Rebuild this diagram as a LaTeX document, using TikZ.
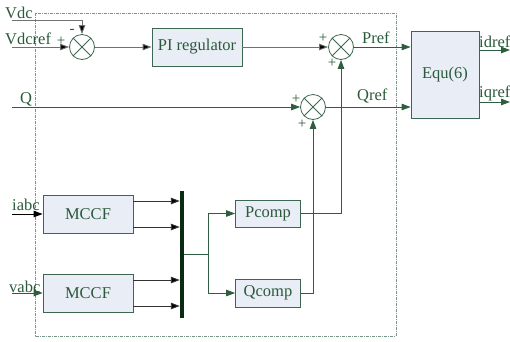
\documentclass[tikz,border=0pt]{standalone}
\usepackage{fontspec}
\setmainfont{Liberation Serif}
\usetikzlibrary{arrows.meta, positioning, calc}
\definecolor{boxGreen}{HTML}{3E6650}
\definecolor{textGreen}{HTML}{2A5A3A}
\definecolor{wireGreen}{HTML}{2F5D40}
\definecolor{boxFill}{HTML}{E9EDF5}
\definecolor{wireGray}{HTML}{707070}
\definecolor{busDark}{HTML}{0B2A16}

\begin{document}
\begin{tikzpicture}[x=1pt, y=-1pt,
    font=\fontsize{16.5}{18}\selectfont, text=textGreen,
    block/.style={draw=boxGreen, fill=boxFill, thick, inner sep=0pt},
    summer/.style={draw=boxGreen, circle, thick, minimum size=25pt, inner sep=0pt},
    wire/.style={wireGreen, line width=0.9pt, -{Triangle[length=9pt, width=6.5pt]}},
    graywire/.style={wireGray, line width=0.9pt, -{Triangle[length=9pt, width=6.5pt, fill=black]}},
    sign/.style={font=\fontsize{15}{16}\selectfont, inner sep=0pt},
    lbl/.style={anchor=base west, inner sep=0pt}]
    \useasboundingbox (0,0) rectangle (510,341);
    % controller frame
    \draw[boxGreen!70, dash pattern=on 3pt off 1pt on 1pt off 1pt] (35,13) rectangle (396,336);

    % blocks
    \node[summer] (sumV) at (82,47) {};
    \node[block, minimum width=90pt, minimum height=38pt] (pi) at (197,47) {PI regulator};
    \node[summer] (sumP) at (341,47) {};
    \node[summer] (sumQ) at (313,107) {};
    \node[block, minimum width=68pt, minimum height=87pt] (equ) at (445,75) {Equ(6)};
    \node[block, minimum width=90pt, minimum height=38pt] (mccfI) at (88,214) {MCCF};
    \node[block, minimum width=90pt, minimum height=38pt] (mccfV) at (88,293) {MCCF};
    \node[fill=busDark, minimum width=4pt, minimum height=127pt, inner sep=0pt] (bus) at (182,254.5) {};
    \node[block, minimum width=65pt, minimum height=27pt] (pcomp) at (268,213.5) {Pcomp};
    \node[block, minimum width=65pt, minimum height=28pt] (qcomp) at (268,293) {Qcomp};
    \foreach \s in {sumV, sumP, sumQ}
        \draw[boxGreen, thick] (\s.north west) -- (\s.south east) (\s.north east) -- (\s.south west);

    % free ends
    \coordinate (vdcIn) at (12,20);
    \coordinate (vdcrefIn) at (12,47);
    \coordinate (qIn) at (12,107);
    \coordinate (iabcIn) at (12,214);
    \coordinate (vabcIn) at (12,293);
    \coordinate (idOut) at (510,50);
    \coordinate (iqOut) at (510,102);

    % connectors
    \draw[graywire] (vdcIn) -| (sumV.north);
    \draw[graywire] (vdcrefIn) -- (sumV.west);
    \draw[graywire] (sumV.east) -- (pi.west);
    \draw[graywire] (pi.east) -- (sumP.west);
    \draw[wire] (sumP.east) -- (equ.west |- sumP.east);
    \draw[wire] (qIn) -- (sumQ.west);
    \draw[wire] (sumQ.east) -- (equ.west |- sumQ.east);
    \draw[wire] (equ.east |- idOut) -- (idOut);
    \draw[wire] (equ.east |- iqOut) -- (iqOut);
    \draw[graywire, black] (iabcIn) -- (mccfI.west);
    \draw[wire] (vabcIn) -- (mccfV.west);
    \foreach \m in {mccfI, mccfV}
        \foreach \d in {-13,13} {
            \path ($(\m.east)+(0,\d)$) coordinate (o);
            \draw[graywire, black!80] (o) -- (o -| bus.west);
        }
    \draw[wireGreen, line width=0.9pt] (bus.east) -- ++(24,0) coordinate (fork);
    \draw[wire] (fork) |- (pcomp.west);
    \draw[wire] (fork) |- (qcomp.west);
    \draw[wire] (pcomp.east) -| (sumP.south);
    \draw[wire] (qcomp.east) -| (sumQ.south);

    % labels
    \node[lbl] at (5,18) {Vdc};
    \node[lbl] at (5,44) {Vdcref};
    \node[lbl] at (20,103) {Q};
    \node[lbl] at (12,210) {iabc};
    \node[lbl] at (9,292) {vabc};
    \node[lbl] at (362,43) {Pref};
    \node[lbl] at (357,100) {Qref};
    \node[lbl] at (479,47) {idref};
    \node[lbl] at (479,97) {iqref};
    \node[sign] at (61,41) {+};
    \node[sign] at (72,31) {-};
    \node[sign] at (323,38) {+};
    \node[sign] at (332,63) {+};
    \node[sign] at (296,99) {+};
    \node[sign] at (302,124) {+};
\end{tikzpicture}
\end{document}
